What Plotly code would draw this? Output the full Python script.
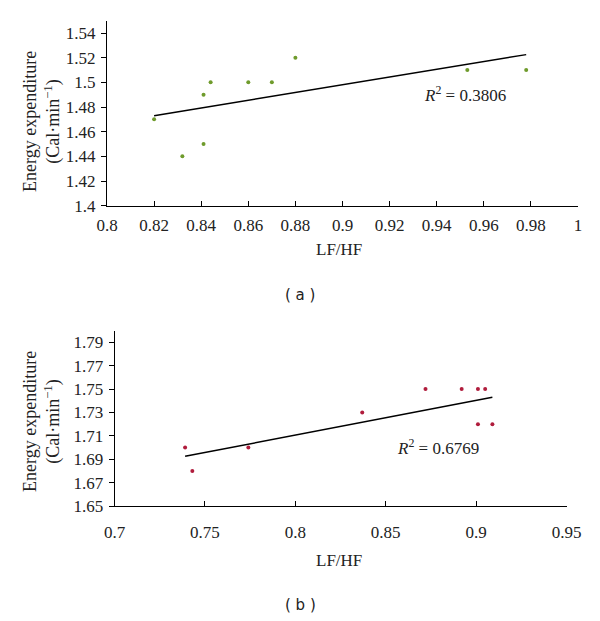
import plotly.graph_objects as go

# Panel (a)
a_lfhf = [0.820, 0.832, 0.841, 0.841, 0.844, 0.860, 0.870, 0.880, 0.953, 0.978]
a_energy = [1.47, 1.44, 1.49, 1.45, 1.50, 1.50, 1.50, 1.52, 1.51, 1.51]
a_trend_x = [0.820, 0.978]
a_trend_y = [1.473, 1.5225]
a_r2 = "0.3806"
a_xticks = [0.8, 0.82, 0.84, 0.86, 0.88, 0.9, 0.92, 0.94, 0.96, 0.98, 1.0]
a_xticklabels = ["0.8", "0.82", "0.84", "0.86", "0.88", "0.9", "0.92", "0.94", "0.96", "0.98", "1"]
a_yticks = [1.4, 1.42, 1.44, 1.46, 1.48, 1.5, 1.52, 1.54]
a_yticklabels = ["1.4", "1.42", "1.44", "1.46", "1.48", "1.5", "1.52", "1.54"]

# Panel (b)
b_lfhf = [0.739, 0.743, 0.774, 0.837, 0.872, 0.892, 0.901, 0.905, 0.901, 0.909]
b_energy = [1.70, 1.68, 1.70, 1.73, 1.75, 1.75, 1.75, 1.75, 1.72, 1.72]
b_trend_x = [0.739, 0.909]
b_trend_y = [1.6925, 1.7430]
b_r2 = "0.6769"
b_xticks = [0.7, 0.75, 0.8, 0.85, 0.9, 0.95]
b_xticklabels = ["0.7", "0.75", "0.8", "0.85", "0.9", "0.95"]
b_yticks = [1.65, 1.67, 1.69, 1.71, 1.73, 1.75, 1.77, 1.79]
b_yticklabels = ["1.65", "1.67", "1.69", "1.71", "1.73", "1.75", "1.77", "1.79"]

SERIF = "Liberation Serif"
TXT = "#222222"
W, H, OFF = 592, 613, 8  # page body margin offsets the figure by 8px


def px(x, y):
    return (x - OFF) / W, 1 - (y - OFF) / H


fig = go.Figure()

fig.add_trace(go.Scatter(x=a_lfhf, y=a_energy, mode="markers",
                         marker=dict(color="#6f9b2c", size=4), xaxis="x", yaxis="y",
                         showlegend=False))
fig.add_trace(go.Scatter(x=a_trend_x, y=a_trend_y, mode="lines",
                         line=dict(color="black", width=1.5), xaxis="x", yaxis="y",
                         showlegend=False))
fig.add_trace(go.Scatter(x=b_lfhf, y=b_energy, mode="markers",
                         marker=dict(color="#b01c3c", size=4), xaxis="x2", yaxis="y2",
                         showlegend=False))
fig.add_trace(go.Scatter(x=b_trend_x, y=b_trend_y, mode="lines",
                         line=dict(color="black", width=1.5), xaxis="x2", yaxis="y2",
                         showlegend=False))

axis_common = dict(showgrid=False, zeroline=False, showline=True, linecolor="black",
                   linewidth=1, tickcolor="black", ticklen=5, automargin=False,
                   tickfont=dict(family=SERIF, size=17, color=TXT))

ax_a_l, ax_a_t = px(107, 20.7)
ax_a_r, ax_a_b = px(578, 205.7)
ax_b_l, ax_b_t = px(114.6, 330.6)
ax_b_r, ax_b_b = px(566.5, 506)

fig.update_layout(
    width=W, height=H,
    margin=dict(l=0, r=0, t=0, b=0),
    paper_bgcolor="white", plot_bgcolor="white",
    xaxis=dict(domain=[ax_a_l, ax_a_r], range=[0.8, 1.0], anchor="y",
               tickvals=a_xticks, ticktext=a_xticklabels, ticks="inside",
               ticklabelstandoff=4, **axis_common),
    yaxis=dict(domain=[ax_a_b, ax_a_t], range=[1.4, 1.55], anchor="x",
               tickvals=a_yticks, ticktext=a_yticklabels, ticks="outside",
               ticklabelstandoff=2, **axis_common),
    xaxis2=dict(domain=[ax_b_l, ax_b_r], range=[0.7, 0.95], anchor="y2",
                tickvals=b_xticks, ticktext=b_xticklabels, ticks="inside",
                ticklabelstandoff=11, **axis_common),
    yaxis2=dict(domain=[ax_b_b, ax_b_t], range=[1.65, 1.80], anchor="x2",
                tickvals=b_yticks, ticktext=b_yticklabels, ticks="outside",
                ticklabelstandoff=2, **axis_common),
)


def note(x, y, text, size=17, family=SERIF, angle=0):
    xx, yy = px(x, y)
    fig.add_annotation(xref="paper", yref="paper", x=xx, y=yy, text=text,
                       showarrow=False, textangle=angle,
                       xanchor="center", yanchor="middle",
                       font=dict(family=family, size=size, color=TXT))


ytitle = "Energy expenditure<br>(Cal·min<sup>−1</sup>)"
note(42, 122, ytitle, size=18, angle=-90)
note(42, 422, ytitle, size=18, angle=-90)
note(339, 250, "LF/HF")
note(339, 560, "LF/HF")
note(465, 94, "<i>R</i><sup>2</sup> = " + a_r2)
note(438, 447, "<i>R</i><sup>2</sup> = " + b_r2)
note(300, 295, "( a )", size=15, family="DejaVu Sans")
note(300, 605, "( b )", size=15, family="DejaVu Sans")

fig.write_html("out.html")
